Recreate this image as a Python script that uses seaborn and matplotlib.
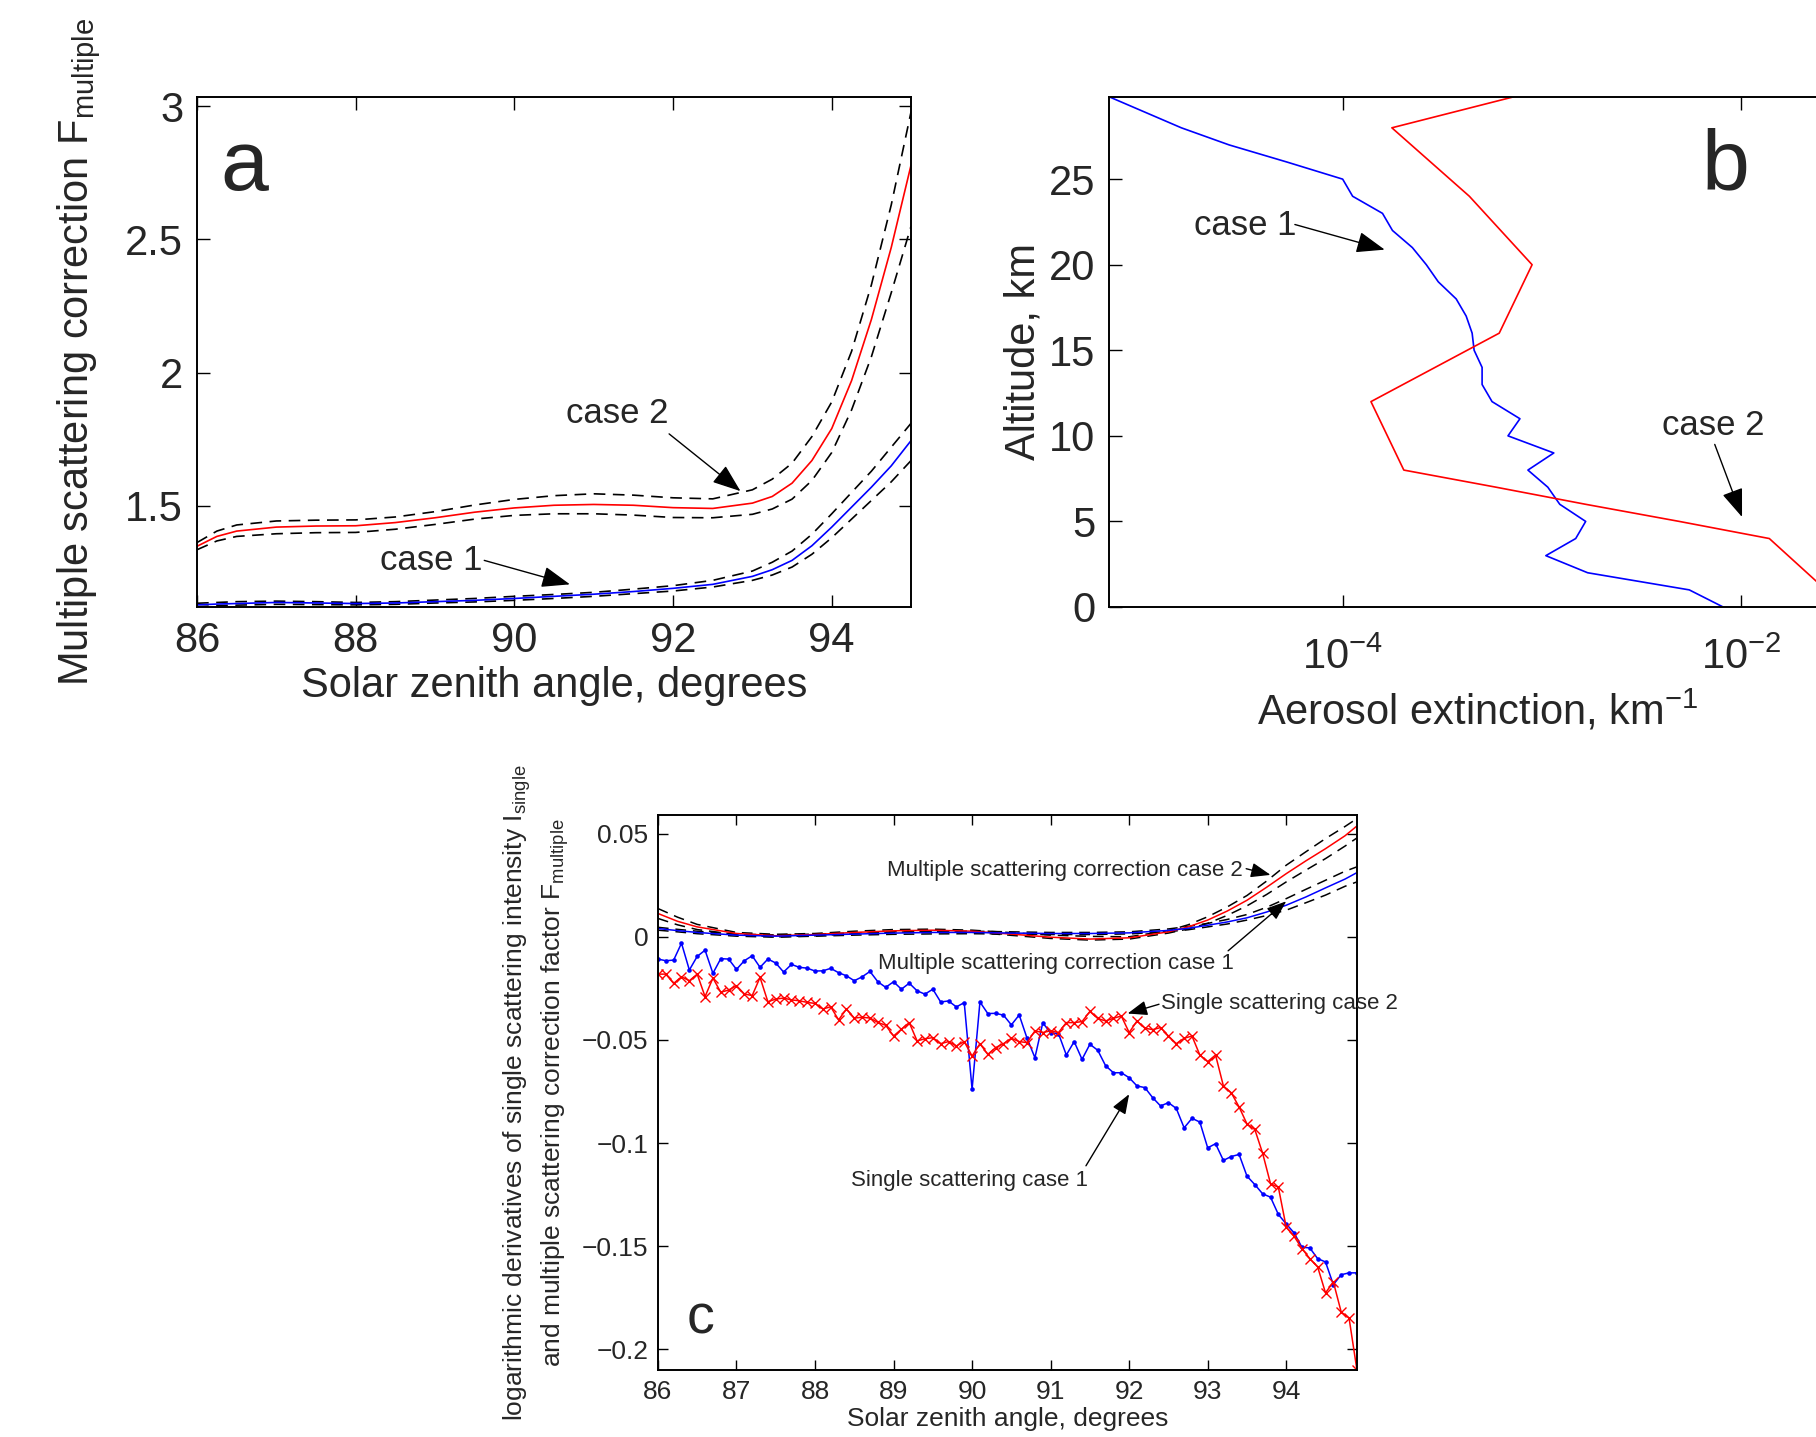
import numpy as np
import matplotlib
matplotlib.use("Agg")
import matplotlib.pyplot as plt
import seaborn as sns

# ---------------- panel a: multiple scattering correction F_multiple ----------------
sza_a = [86.0, 86.25, 86.5, 87.0, 87.5, 88.0, 88.5, 89.0, 89.5, 90.0, 90.5, 91.0,
         91.5, 92.0, 92.5, 93.0, 93.25, 93.5, 93.75, 94.0, 94.25, 94.5, 94.75, 95.0]
f_case2 = [1.348, 1.385, 1.405, 1.420, 1.424, 1.425, 1.437, 1.455, 1.476, 1.492, 1.502, 1.505,
           1.502, 1.493, 1.490, 1.510, 1.535, 1.585, 1.670, 1.790, 1.970, 2.200, 2.470, 2.780]
f_case2_hi = [1.362, 1.405, 1.428, 1.443, 1.446, 1.447, 1.458, 1.478, 1.503, 1.524, 1.538, 1.545,
              1.540, 1.530, 1.526, 1.560, 1.600, 1.660, 1.760, 1.890, 2.080, 2.330, 2.630, 2.980]
f_case2_lo = [1.335, 1.368, 1.385, 1.395, 1.399, 1.400, 1.412, 1.430, 1.450, 1.464, 1.470, 1.470,
              1.465, 1.456, 1.455, 1.468, 1.488, 1.525, 1.595, 1.700, 1.860, 2.060, 2.300, 2.550]
f_case1 = [1.128, 1.131, 1.133, 1.137, 1.135, 1.133, 1.135, 1.140, 1.145, 1.152, 1.160, 1.168,
           1.178, 1.190, 1.205, 1.235, 1.260, 1.295, 1.350, 1.420, 1.495, 1.570, 1.650, 1.745]
f_case1_hi = [1.134, 1.137, 1.140, 1.142, 1.140, 1.137, 1.140, 1.146, 1.152, 1.160, 1.167, 1.175,
              1.187, 1.200, 1.220, 1.255, 1.288, 1.330, 1.393, 1.470, 1.550, 1.630, 1.720, 1.810]
f_case1_lo = [1.121, 1.125, 1.127, 1.130, 1.129, 1.128, 1.130, 1.135, 1.139, 1.145, 1.152, 1.160,
              1.170, 1.180, 1.195, 1.220, 1.240, 1.270, 1.318, 1.380, 1.450, 1.520, 1.590, 1.670]

# ---------------- panel b: aerosol extinction profiles (log10 of km^-1) ----------------
alt_case1 = [29.8, 29, 28, 27, 26, 25, 24, 23, 22, 21, 20, 19, 18, 17, 16, 15,
             14, 13, 12, 11, 10, 9, 8, 7, 6, 5, 4, 3, 2, 1, 0]
logext_case1 = [-5.17, -5.01, -4.81, -4.57, -4.28, -4.00, -3.95, -3.80, -3.75, -3.65, -3.58,
                -3.52, -3.43, -3.38, -3.35, -3.34, -3.30, -3.30, -3.25, -3.11, -3.17, -2.94,
                -3.07, -2.97, -2.91, -2.78, -2.83, -2.98, -2.77, -2.26, -2.09]
alt_case2 = [29.8, 28, 24, 20, 16, 12, 8, 7, 6, 5, 4, 0]
logext_case2 = [-3.145, -3.753, -3.364, -3.049, -3.214, -3.858, -3.693, -3.23, -2.78, -2.31,
                -1.858, -1.48]

# ---------------- panel c: logarithmic derivatives ----------------
sza_c = [86.0, 86.25, 86.5, 87.0, 87.5, 88.0, 88.5, 89.0, 89.5, 90.0, 90.5, 91.0, 91.5,
         92.0, 92.5, 92.75, 93.0, 93.25, 93.5, 93.75, 94.0, 94.25, 94.5, 94.75, 94.9]
dF_case2 = [0.0113, 0.0075, 0.0048, 0.0016, 0.0005, 0.0011, 0.0021, 0.0029, 0.0032, 0.0027,
            0.0013, -0.0002, -0.0011, -0.0005, 0.0024, 0.0048, 0.0081, 0.0125, 0.0177,
            0.0240, 0.0306, 0.0368, 0.0427, 0.0490, 0.0537]
dF_case2_hi = [0.0137, 0.0095, 0.0060, 0.0021, 0.0012, 0.0016, 0.0027, 0.0035, 0.0037, 0.0032,
               0.0020, 0.0008, 0.0002, 0.0000, 0.0030, 0.0058, 0.0097, 0.0145, 0.0200,
               0.0270, 0.0347, 0.0412, 0.0476, 0.0535, 0.0573]
dF_case2_lo = [0.0089, 0.0058, 0.0035, 0.0011, 0.0000, 0.0005, 0.0015, 0.0022, 0.0026, 0.0022,
               0.0007, -0.0008, -0.0016, -0.0011, 0.0018, 0.0038, 0.0065, 0.0104, 0.0150,
               0.0205, 0.0266, 0.0323, 0.0379, 0.0440, 0.0479]
dF_case1 = [0.0040, 0.0030, 0.0021, 0.0008, 0.0003, 0.0008, 0.0013, 0.0018, 0.0021, 0.0021,
            0.0018, 0.0016, 0.0016, 0.0019, 0.0031, 0.0041, 0.0056, 0.0072, 0.0092,
            0.0120, 0.0153, 0.0193, 0.0237, 0.0280, 0.0311]
dF_case1_hi = [0.0046, 0.0036, 0.0027, 0.0013, 0.0009, 0.0013, 0.0019, 0.0024, 0.0027, 0.0027,
               0.0024, 0.0021, 0.0021, 0.0024, 0.0038, 0.0050, 0.0065, 0.0084, 0.0108,
               0.0143, 0.0185, 0.0230, 0.0274, 0.0318, 0.0339]
dF_case1_lo = [0.0032, 0.0024, 0.0015, 0.0003, -0.0002, 0.0003, 0.0008, 0.0012, 0.0014, 0.0015,
               0.0013, 0.0011, 0.0011, 0.0014, 0.0025, 0.0034, 0.0048, 0.0062, 0.0081,
               0.0103, 0.0129, 0.0165, 0.0202, 0.0245, 0.0266]

# single scattering derivatives, every 0.1 degree from 86.0 to 94.9
sza_single = np.round(np.arange(86.0, 94.95, 0.1), 1)
dI_case1 = [-0.0108, -0.0116, -0.0113, -0.0031, -0.0161, -0.0095, -0.0065, -0.0177, -0.0106, -0.0108,
            -0.0158, -0.0116, -0.0092, -0.0148, -0.0108, -0.0127, -0.0171, -0.0134, -0.0148, -0.0152,
            -0.0166, -0.0165, -0.0153, -0.0174, -0.0189, -0.0213, -0.0194, -0.0168, -0.0218, -0.0245,
            -0.0218, -0.0254, -0.0225, -0.0262, -0.0278, -0.0254, -0.0316, -0.0311, -0.0340, -0.0319,
            -0.0739, -0.0316, -0.0372, -0.0371, -0.0380, -0.0427, -0.0379, -0.0492, -0.0586, -0.0417,
            -0.0466, -0.0469, -0.0573, -0.0508, -0.0594, -0.0521, -0.0550, -0.0625, -0.0659, -0.0659,
            -0.0683, -0.0723, -0.0731, -0.0780, -0.0820, -0.0804, -0.0832, -0.0926, -0.0880, -0.0898,
            -0.1023, -0.1003, -0.1084, -0.1065, -0.1055, -0.1160, -0.1201, -0.1246, -0.1262, -0.1346,
            -0.1392, -0.1435, -0.1505, -0.1508, -0.1560, -0.1576, -0.1686, -0.1638, -0.1629, -0.1629]
dI_case2 = [-0.0181, -0.0181, -0.0226, -0.0194, -0.0213, -0.0181, -0.0290, -0.0200, -0.0269, -0.0258,
            -0.0237, -0.0277, -0.0285, -0.0197, -0.0315, -0.0302, -0.0297, -0.0306, -0.0310, -0.0318,
            -0.0323, -0.0350, -0.0339, -0.0403, -0.0350, -0.0394, -0.0390, -0.0394, -0.0415, -0.0429,
            -0.0481, -0.0448, -0.0416, -0.0505, -0.0494, -0.0489, -0.0518, -0.0508, -0.0529, -0.0508,
            -0.0578, -0.0518, -0.0570, -0.0537, -0.0518, -0.0492, -0.0508, -0.0513, -0.0456, -0.0464,
            -0.0456, -0.0464, -0.0416, -0.0416, -0.0411, -0.0362, -0.0396, -0.0408, -0.0395, -0.0384,
            -0.0464, -0.0408, -0.0443, -0.0450, -0.0440, -0.0481, -0.0518, -0.0492, -0.0481, -0.0573,
            -0.0605, -0.0573, -0.0723, -0.0756, -0.0825, -0.0907, -0.0934, -0.1050, -0.1197, -0.1214,
            -0.1408, -0.1452, -0.1511, -0.1560, -0.1600, -0.1726, -0.1673, -0.1819, -0.1848, -0.2099]

RED = "#ff0000"
BLUE = "#0000ff"
DASH = (0, (7, 4.5))

sns.set_style("ticks")
plt.rcParams["font.family"] = ["Liberation Sans", "DejaVu Sans"]
plt.rcParams["mathtext.default"] = "regular"
plt.rcParams["axes.edgecolor"] = "black"
plt.rcParams["axes.linewidth"] = 1.4

fig = plt.figure(figsize=(18.16, 14.37), dpi=100)
ax_a = fig.add_axes([0.1085, 0.5776, 0.3932, 0.3549])
ax_b = fig.add_axes([0.6107, 0.5776, 0.4577, 0.3549])
ax_c = fig.add_axes([0.3623, 0.0466, 0.3849, 0.3862])


def line(ax, x, y, color, lw=1.2, **kw):
    sns.lineplot(x=x, y=y, ax=ax, color=color, sort=False, estimator=None,
                 linewidth=lw, **kw)


def arrow(ax, tail, head, scale):
    ax.annotate("", xy=head, xytext=tail,
                arrowprops=dict(arrowstyle="-|>,head_length=0.8,head_width=0.3",
                                color="k", lw=1.0, shrinkA=0, shrinkB=0,
                                mutation_scale=scale))


def matlab_ticks(ax, size, length, pad):
    ax.tick_params(which="both", direction="in", top=True, right=True,
                   labelsize=size, length=length, width=1.0, color="k", pad=pad)


# ----- a -----
for hi, lo in [(f_case2_hi, f_case2_lo), (f_case1_hi, f_case1_lo)]:
    line(ax_a, sza_a, hi, "k", linestyle=DASH)
    line(ax_a, sza_a, lo, "k", linestyle=DASH)
line(ax_a, sza_a, f_case2, RED)
line(ax_a, sza_a, f_case1, BLUE)
ax_a.set_xlim(86, 95)
ax_a.set_ylim(1.12, 3.035)
ax_a.set_xticks([86, 88, 90, 92, 94])
ax_a.set_yticks([1.5, 2, 2.5, 3])
ax_a.set_yticklabels(["1.5", "2", "2.5", "3"])
matlab_ticks(ax_a, 30, 9, 10)
ax_a.set_xlabel("Solar zenith angle, degrees", fontsize=30)
ax_a.set_ylabel("Multiple scattering correction F$_{multiple}$", fontsize=30)
ax_a.xaxis.set_label_coords(0.5, -0.115)
ax_a.yaxis.set_label_coords(-0.132, 0.5)
ax_a.text(86.6, 2.77, "a", fontsize=62, ha="center", va="center")
ax_a.text(91.3, 1.846, "case 2", fontsize=25, ha="center", va="center")
arrow(ax_a, (91.95, 1.77), (92.85, 1.555), 22)
ax_a.text(88.95, 1.295, "case 1", fontsize=25, ha="center", va="center")
arrow(ax_a, (89.62, 1.295), (90.7, 1.205), 22)

# ----- b -----
line(ax_b, 10.0 ** np.array(logext_case1), alt_case1, BLUE)
line(ax_b, 10.0 ** np.array(logext_case2), alt_case2, RED)
ax_b.set_xscale("log")
ax_b.set_xlim(10 ** -5.173, 10 ** -1.0)
ax_b.set_ylim(0, 29.8)
ax_b.set_xticks([1e-4, 1e-2])
ax_b.set_xticklabels(["$10^{-4}$", "$10^{-2}$"])
ax_b.xaxis.set_minor_locator(matplotlib.ticker.NullLocator())
ax_b.set_yticks([0, 5, 10, 15, 20, 25])
matlab_ticks(ax_b, 30, 9, 10)
ax_b.tick_params(axis="x", pad=22)
ax_b.set_xlabel("Aerosol extinction, km$^{-1}$", fontsize=30)
ax_b.set_ylabel("Altitude, km", fontsize=30)
ax_b.xaxis.set_label_coords(0.444, -0.16)
ax_b.yaxis.set_label_coords(-0.079, 0.5)
ax_b.text(10 ** -2.077, 25.7, "b", fontsize=62, ha="center", va="center")
ax_b.text(10 ** -4.488, 22.3, "case 1", fontsize=25, ha="center", va="center")
arrow(ax_b, (10 ** -4.24, 22.35), (10 ** -3.789, 20.88), 22)
ax_b.text(10 ** -2.137, 10.6, "case 2", fontsize=25, ha="center", va="center")
arrow(ax_b, (10 ** -2.132, 9.5), (10 ** -1.995, 5.26), 22)

# ----- c -----
for hi, lo in [(dF_case2_hi, dF_case2_lo), (dF_case1_hi, dF_case1_lo)]:
    line(ax_c, sza_c, hi, "k", lw=1.1, linestyle=DASH)
    line(ax_c, sza_c, lo, "k", lw=1.1, linestyle=DASH)
line(ax_c, sza_c, dF_case2, RED, lw=1.1)
line(ax_c, sza_c, dF_case1, BLUE, lw=1.1)
line(ax_c, sza_single, dI_case1, BLUE, lw=1.1, marker="o", markersize=3.3,
     markeredgewidth=0, markerfacecolor=BLUE)
line(ax_c, sza_single, dI_case2, RED, lw=1.1, marker="x", markersize=7.5,
     markeredgewidth=1.0, markeredgecolor=RED)
ax_c.set_xlim(86, 94.9)
ax_c.set_ylim(-0.21, 0.059)
ax_c.set_xticks(range(86, 95))
ax_c.set_yticks([0.05, 0, -0.05, -0.1, -0.15, -0.2])
ax_c.set_yticklabels(["0.05", "0", "\u22120.05", "\u22120.1", "\u22120.15", "\u22120.2"])
matlab_ticks(ax_c, 19, 7, 7)
ax_c.set_xlabel("Solar zenith angle, degrees", fontsize=19)
ax_c.set_ylabel("logarithmic derivatives of single scattering intensity I$_{single}$\n"
                "and multiple scattering correction factor F$_{multiple}$",
                fontsize=19, linespacing=1.3)
ax_c.xaxis.set_label_coords(0.5, -0.066)
ax_c.yaxis.set_label_coords(-0.124, 0.5)
ax_c.text(86.54, -0.1853, "c", fontsize=40, ha="center", va="center")
ax_c.text(91.18, 0.032, "Multiple scattering correction case 2", fontsize=16,
          ha="center", va="center")
arrow(ax_c, (93.49, 0.033), (93.8, 0.030), 15)
ax_c.text(91.07, -0.0131, "Multiple scattering correction case 1", fontsize=16,
          ha="center", va="center")
arrow(ax_c, (93.26, -0.0068), (94.0, 0.0172), 15)
ax_c.text(92.4, -0.0325, "Single scattering case 2", fontsize=16,
          ha="left", va="center")
arrow(ax_c, (92.38, -0.0327), (91.98, -0.0372), 15)
ax_c.text(89.97, -0.118, "Single scattering case 1", fontsize=16,
          ha="center", va="center")
arrow(ax_c, (91.45, -0.111), (92.0, -0.0763), 15)

fig.savefig("out.png", dpi=100)
